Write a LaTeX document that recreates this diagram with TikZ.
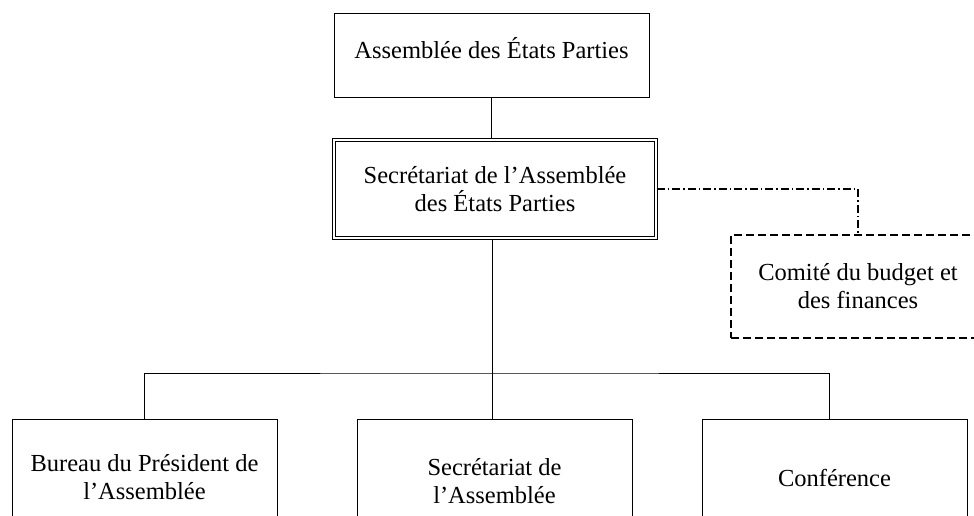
\documentclass[tikz,border=0pt]{standalone}
\usepackage{fontspec}
\setmainfont{Liberation Serif}
\usetikzlibrary{positioning}

\tikzset{
  box/.style={draw, line width=1pt, align=center, font=\fontsize{24.5}{28}\selectfont},
  dblbox/.style={box, double, line width=1.7pt, double distance=1.2pt},
  dashbox/.style={box, line width=1.4pt, dash pattern=on 8pt off 4pt},
  link/.style={line width=0.9pt},
  dotlink/.style={line width=1.2pt, dash pattern=on 8pt off 3pt on 1.5pt off 3pt}
}

\begin{document}
\begin{tikzpicture}[x=1pt, y=-1pt]
\useasboundingbox (0,0) rectangle (974,516);

% Kaesten
\node[box, minimum width=315pt, minimum height=84pt] (AEP) at (491.5,56) {};
\node[font=\fontsize{24.5}{28}\selectfont] (AEPtext) at ([yshift=8pt]AEP.center) {Assemblée des États Parties};
\node[dblbox, minimum width=322pt, minimum height=98pt] (SEC) at (495,189) {Secrétariat de l’Assemblée\\des États Parties};
\node[dashbox, minimum width=254pt, minimum height=103pt] (CBF) at (858,286.5) {Comité du budget et\\des finances};
\node[box, minimum width=265pt, minimum height=116pt, anchor=north] (BUR) at (144.5,419) {Bureau du Président de\\l’Assemblée};
\node[box, minimum width=275pt, minimum height=124pt, anchor=north] (SECA) at (494.5,419) {Secrétariat de\\l’Assemblée};
\node[box, minimum width=265pt, minimum height=116pt, anchor=north] (CON) at (834.5,419) {Conférence};

% Striche
\coordinate (bar) at (492,373);
\draw[link] (AEP.south) -- (AEP.south |- SEC.north);
\draw[link] (SEC.south -| bar) -- (bar |- SECA.north);
\draw[link] (BUR.north) |- (bar) -| ([xshift=-5pt]CON.north);
\draw[dotlink] (SEC.east) -| (CBF.north);

\end{tikzpicture}
\end{document}
